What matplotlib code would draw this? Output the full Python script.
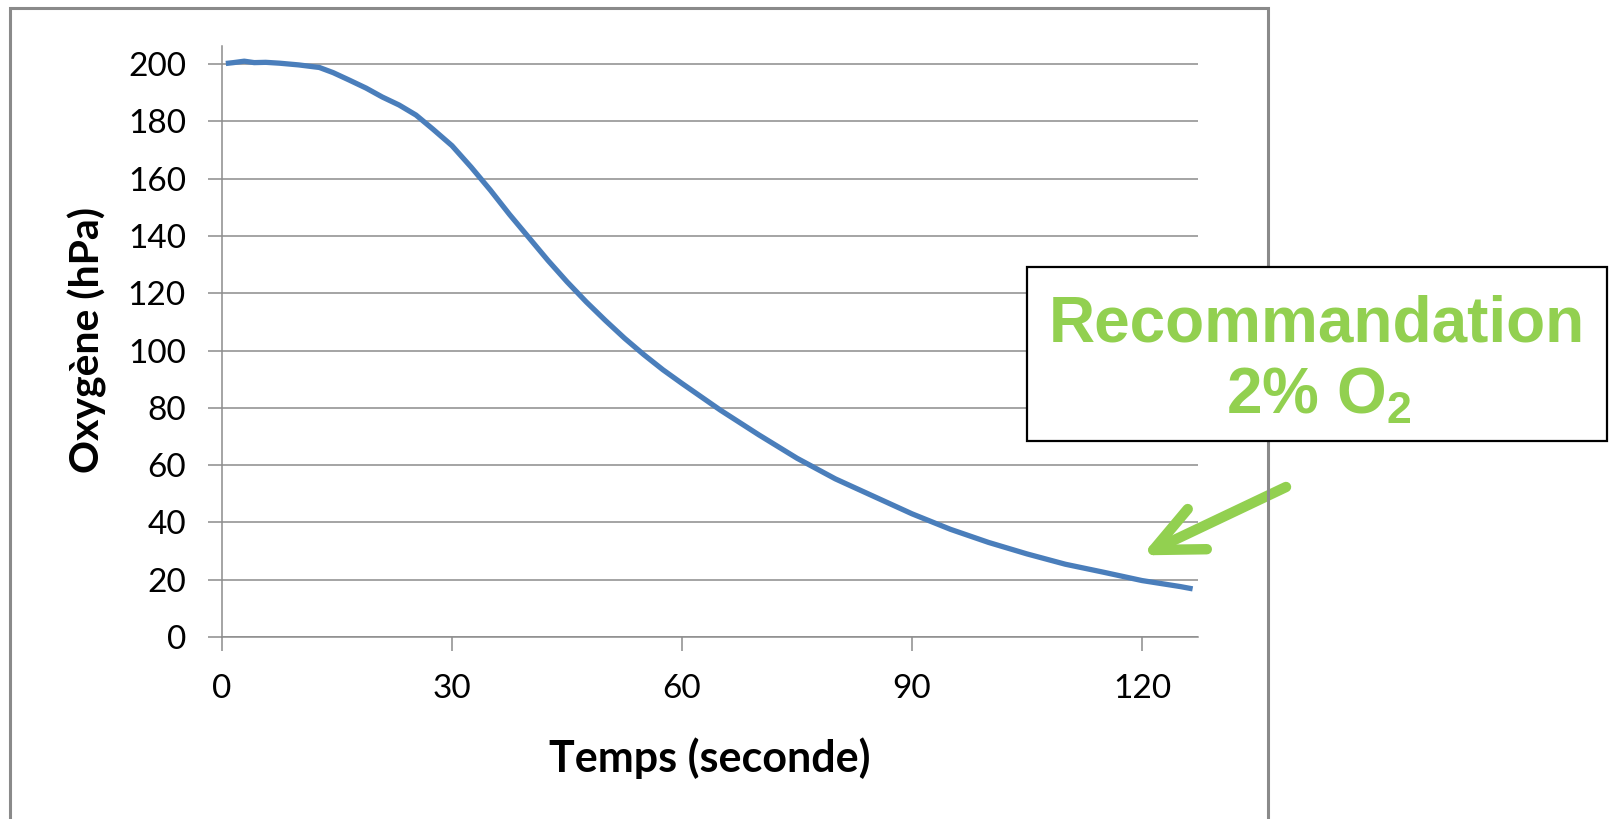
# -*- coding: utf-8 -*-
# Oxygen decrease curve with the 2% O2 recommendation callout
import matplotlib
matplotlib.use('Agg')
import matplotlib.pyplot as plt
from matplotlib.patches import Rectangle

#%% data
time_s = [0.5, 1.5, 2.9, 4.2, 5.7, 7.5, 10.0, 12.7, 14.5, 16.6, 18.8, 20.9,
          23.1, 25.3, 27.5, 30, 32.5, 35, 37.5, 40, 42.5, 45, 47.5, 50, 52.5,
          55, 57.5, 60, 65, 70, 75, 80, 85, 90, 95, 100, 105, 110, 115, 120,
          125, 126.6]
oxygen_hpa = [200.2, 200.5, 201.0, 200.5, 200.6, 200.3, 199.7, 198.8, 197.0,
              194.4, 191.6, 188.5, 185.7, 182.2, 177.3, 171.5, 164.0, 156.0,
              147.5, 139.5, 131.5, 124.0, 117.0, 110.5, 104.3, 98.6, 93.3,
              88.5, 79.2, 70.6, 62.4, 55.2, 49.1, 43.0, 37.6, 33.0, 29.0,
              25.4, 22.6, 19.7, 17.6, 16.8]

x_ticks = [0, 30, 60, 90, 120]
y_ticks = [0, 20, 40, 60, 80, 100, 120, 140, 160, 180, 200]

x_label = 'Temps (seconde)'
y_label = 'Oxygène (hPa)'
note_line1 = 'Recommandation'
note_line2 = r'2% O$_2$'

#%% styles
W, H = 1610, 819
line_blue = '#4A7EBB'
note_green = '#92D050'
grid_grey = '#8C8C8C'

plt.rcParams['font.family'] = ['Lato', 'DejaVu Sans']
plt.rcParams['mathtext.fontset'] = 'custom'
plt.rcParams['mathtext.rm'] = 'Liberation Sans:bold'
plt.rcParams['mathtext.it'] = 'Liberation Sans:bold'
plt.rcParams['mathtext.bf'] = 'Liberation Sans:bold'
plt.rcParams['mathtext.default'] = 'rm'

fig = plt.figure(figsize=(W / 100, H / 100), dpi=100)
fig.patch.set_facecolor('white')

# plot area in pixels: x 222..1198, y 46..637 (from top)
ax = fig.add_axes([222 / W, (H - 637) / H, (1198 - 222) / W, (637 - 46) / H])
ax.plot(time_s, oxygen_hpa, color=line_blue, lw=3.8, solid_capstyle='butt', zorder=3)

ax.set_xlim(0, 127.3)
ax.set_ylim(0, 206.3)
ax.set_xticks(x_ticks)
ax.set_yticks(y_ticks)
ax.yaxis.grid(True, color=grid_grey, lw=1.1)
ax.set_axisbelow(True)
for s in ['top', 'right']:
    ax.spines[s].set_visible(False)
for s in ['left', 'bottom']:
    ax.spines[s].set_color(grid_grey)
    ax.spines[s].set_linewidth(1.1)
ax.tick_params(axis='both', direction='out', length=10, width=1.1,
               color=grid_grey, labelsize=24, labelcolor='black')
ax.tick_params(axis='x', pad=17)
ax.tick_params(axis='y', pad=16)

ax.set_xlabel(x_label, fontsize=31, fontweight='bold')
ax.xaxis.set_label_coords(0.5, (637 - 758) / 591)
ax.xaxis.label.set_va('center')
ax.set_ylabel(y_label, fontsize=29.5, fontweight='bold')
ax.yaxis.set_label_coords((87 - 222) / 976, (637 - 340) / 591)
ax.yaxis.label.set_va('center')

# grey outer frame of the chart object
fig.add_artist(Rectangle((10 / W, -0.05), (1268 - 10) / W, (H - 8) / H + 0.05,
                         transform=fig.transFigure, fill=False,
                         edgecolor='#8A8A8A', lw=2.2, zorder=1))

# callout box
fig.add_artist(Rectangle((1027 / W, (H - 441) / H), (1607 - 1027) / W, (441 - 267) / H,
                         transform=fig.transFigure, facecolor='white',
                         edgecolor='black', lw=1.6, zorder=5))
fig.text(1317 / W, (H - 342) / H, note_line1, ha='center', va='baseline',
         fontsize=46, fontweight='bold', family='Liberation Sans',
         color=note_green, zorder=6)
fig.text(1319 / W, (H - 414) / H, note_line2, ha='center', va='baseline',
         fontsize=46, fontweight='bold', family='Liberation Sans',
         color=note_green, zorder=6)

# arrow pointing at the curve around 120 s
ax.annotate('', xy=(120.0, 28.5), xycoords='data',
            xytext=(1286, H - 487), textcoords='figure pixels',
            arrowprops=dict(arrowstyle='->,head_length=35,head_width=16',
                            mutation_scale=1, lw=7.5, color=note_green,
                            shrinkA=0, shrinkB=0, capstyle='round',
                            joinstyle='round'),
            annotation_clip=False, zorder=7)

plt.savefig('out.png', dpi=100)
